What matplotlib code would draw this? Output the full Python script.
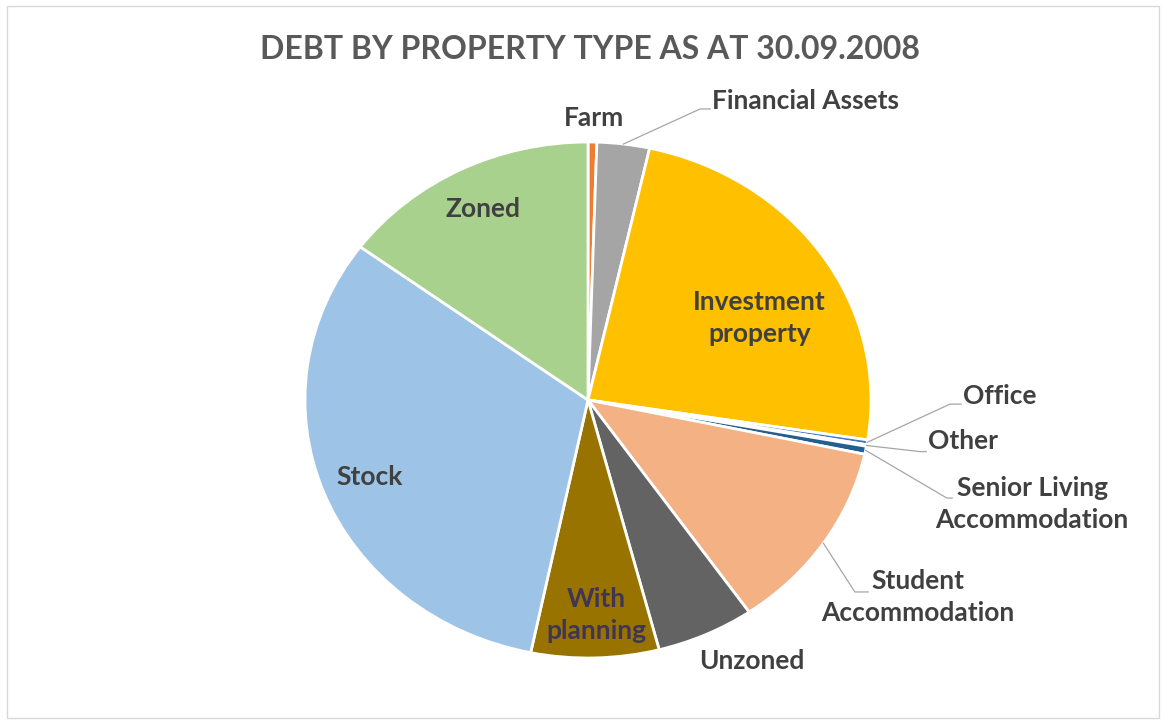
import numpy as np
import matplotlib.pyplot as plt
from matplotlib.patches import Rectangle

labels = ['Farm', 'Financial Assets', 'Investment\nproperty', 'Office', 'Other',
          'Senior Living\nAccommodation', 'Student\nAccommodation', 'Unzoned',
          'With\nplanning', 'Stock', 'Zoned']
values = [0.5, 3.0, 24.0, 0.3, 0.1, 0.5, 12.0, 5.6, 7.3, 31.9, 14.9]
colors = ['#ED7D31', '#A5A5A5', '#FFC000', '#4472C4', '#FFFFFF', '#255E91',
          '#F4B183', '#636363', '#997300', '#9DC3E6', '#A9D18E']

# label placement in data coords of the (elliptical) axes
# (x, y, ha, leader elbow (x, y, end_x) or None)
label_pos = {
    'Farm': (0.02, 1.093, 'center', None),
    'Financial Assets': (0.438, 1.159, 'left', (0.396, 1.128, 0.432)),
    'Investment\nproperty': (0.605, 0.318, 'center', None),
    'Office': (1.325, 0.016, 'left', (1.279, -0.016, 1.318)),
    'Other': (1.201, -0.159, 'left', (1.173, -0.20, 1.195)),
    'Senior Living\nAccommodation': (1.569, -0.405, 'center', (1.268, -0.38, 1.287)),
    'Student\nAccommodation': (1.166, -0.764, 'center', (0.943, -0.744, 0.99)),
    'Unzoned': (0.579, -1.01, 'center', None),
    'With\nplanning': (0.03, -0.833, 'center', None),
    'Stock': (-0.77, -0.298, 'center', None),
    'Zoned': (-0.371, 0.74, 'center', None),
}

fig = plt.figure(figsize=(11.66, 7.24), dpi=100)
fig.patches.append(Rectangle((0.006, 0.008), 0.988, 0.984, transform=fig.transFigure,
                             fill=False, edgecolor='#D9D9D9', lw=1.0))

ax = fig.add_axes([305 / 1166, 66 / 724, 566 / 1166, 516 / 724])
wedges, _ = ax.pie(values, colors=colors, startangle=90, counterclock=False,
                   radius=1.0, wedgeprops=dict(edgecolor='white', linewidth=2.0),
                   frame=True)
ax.set_aspect('auto')
ax.set_xlim(-1, 1)
ax.set_ylim(-1, 1)
ax.axis('off')

txt = '#404040'
for w, lab in zip(wedges, labels):
    x, y, ha, elbow = label_pos[lab]
    col = '#3F3556' if lab.startswith('With') else txt
    ax.text(x, y, lab, ha=ha, va='center', fontsize=19, fontweight='bold',
            family='Lato', color=col, linespacing=1.4, clip_on=False)
    if elbow is not None:
        mid = np.deg2rad((w.theta1 + w.theta2) / 2)
        px, py = np.cos(mid), np.sin(mid)
        ex, ey, end_x = elbow
        ax.plot([px, ex, end_x], [py, ey, ey], color='#A6A6A6',
                lw=0.9, clip_on=False)

fig.text(0.506, 0.931, 'DEBT BY PROPERTY TYPE AS AT 30.09.2008', ha='center', va='center',
         fontsize=23, fontweight='bold', family='Lato', color='#595959')

fig.savefig('out.png', dpi=100)
